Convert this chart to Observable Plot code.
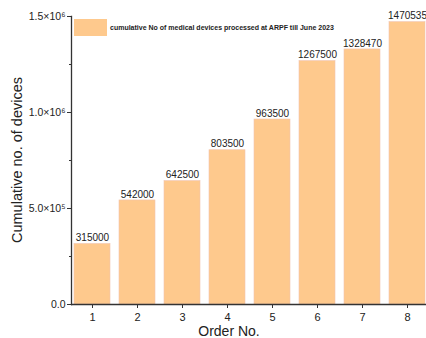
<!DOCTYPE html>
<html><head><meta charset="utf-8">
<script src="https://cdn.jsdelivr.net/npm/d3@7"></script>
<script src="https://cdn.jsdelivr.net/npm/@observablehq/plot@0.6"></script>
<style>
body{margin:0;background:#fff;font-family:Arial,"Liberation Sans",sans-serif;}
#wrap{position:relative;width:426px;height:338px;}
#legend{position:absolute;left:74px;top:19px;display:flex;align-items:center;font-size:7px;font-weight:bold;color:#222;}
#legend .sw{width:33px;height:17px;background:#fec98d;margin-right:3px;}
</style>
</head><body>
<div id="wrap"><div id="legend"><div class="sw"></div><span>cumulative No of medical devices processed at ARPF till June 2023</span></div></div>
<script>
const orders = ["1","2","3","4","5","6","7","8"];
const values = [315000, 542000, 642500, 803500, 963500, 1267500, 1328470, 1470535];
const yTicks = [0, 500000, 1000000, 1500000];
const yTickLabels = ["0.0", "5.0×10⁵", "1.0×10⁶", "1.5×10⁶"];
const yMinor = [250000, 750000, 1250000];
const data = orders.map((o, i) => ({order: o, value: values[i]}));

const chart = Plot.plot({
  width: 426, height: 338,
  marginLeft: 71, marginRight: 0, marginTop: 16, marginBottom: 34,
  style: {fontFamily: "Arial, 'Liberation Sans', sans-serif", background: "transparent"},
  x: {domain: orders, range: [71, 427], paddingInner: 0.2, paddingOuter: 0, label: null, axis: null},
  y: {domain: [0, 1500000], label: null, axis: null},
  marks: [
    Plot.barY(data, {x: "order", y: "value", fill: "#fec98d", stroke: "#f0c4b0", strokeWidth: 0.6}),
    Plot.text(data, {x: "order", y: "value", text: d => String(d.value), dy: -6, fontSize: 10, fill: "#222"}),
    Plot.axisY(yTicks, {tickSize: 4, tickFormat: (d) => yTickLabels[yTicks.indexOf(d)], fontSize: 10.5, tickPadding: 2, label: null, stroke: "#333", fill: "#222"}),
    Plot.axisY(yMinor, {tickSize: 2, tickFormat: () => "", label: null, stroke: "#333"}),
    Plot.axisX({tickSize: 4, fontSize: 11, tickPadding: 5, label: null, stroke: "#333", fill: "#222"}),
    Plot.ruleY([0], {stroke: "#333", strokeWidth: 1.3}),
    Plot.frame({anchor: "left", stroke: "#333", strokeWidth: 1.3})
  ]
});
const svg = d3.select(chart);
svg.append("text").attr("x", 229).attr("y", 336).attr("text-anchor", "middle")
  .attr("font-size", 14).attr("fill", "#222").text("Order No.");
svg.append("text").attr("transform", "translate(22,160) rotate(-90)").attr("text-anchor", "middle")
  .attr("font-size", 14.5).attr("fill", "#222").text("Cumulative no. of devices");
document.getElementById("wrap").prepend(chart);
</script>
</body></html>
